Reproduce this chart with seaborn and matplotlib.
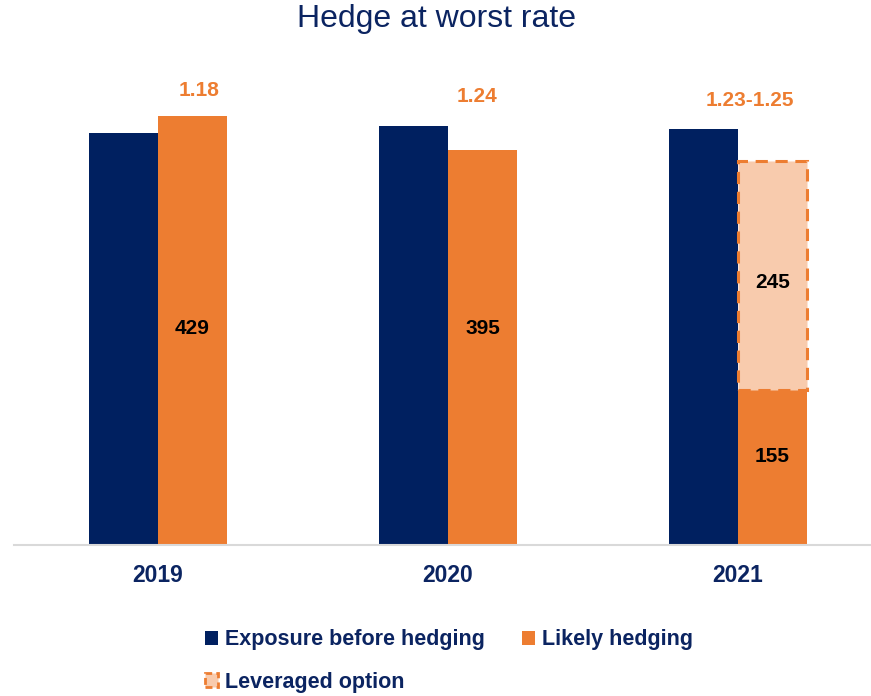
import matplotlib
matplotlib.use("Agg")
import matplotlib.pyplot as plt
import seaborn as sns
import pandas as pd
from matplotlib.patches import Patch

years = ["2019", "2020", "2021"]
exposure = [412, 419, 416]
likely_hedging = [429, 395, 155]
leveraged_height = [0, 0, 229]
leveraged_labels = ["", "", "245"]
rate_labels = ["1.18", "1.24", "1.23-1.25"]

NAVY = "#002060"
TEXT_NAVY = "#0B2461"
ORANGE = "#ED7D31"
LIGHT = "#F8CBAD"

sns.set_theme(style="white")
plt.rcParams['font.family'] = ['Liberation Sans', 'DejaVu Sans']

df = pd.DataFrame({
    "year": years * 2,
    "value": exposure + likely_hedging,
    "series": ["Exposure before hedging"] * 3 + ["Likely hedging"] * 3,
})

fig = plt.figure(figsize=(8.71, 6.96), dpi=100)
W, H = 871, 696
base_px = 545
top_px = 60
ax = fig.add_axes([14 / W, 1 - base_px / H, (W - 14) / W, (base_px - top_px) / H])

bw = 69 / 290
sns.barplot(data=df, x="year", y="value", hue="series",
            palette=[NAVY, ORANGE], width=2 * bw, gap=0, dodge=True,
            saturation=1, ax=ax, legend=False, linewidth=0)

xs = range(len(years))
for i in xs:
    if leveraged_height[i] > 0:
        ax.bar(i + bw / 2, leveraged_height[i], width=bw, bottom=likely_hedging[i],
               color=LIGHT, edgecolor=ORANGE, linestyle=(0, (4, 2.5)), linewidth=2.2)

ax.set_xlim((14 - 158) / 290, (871 - 158) / 290)
ax.set_ylim(0, base_px - top_px)

for s in ["top", "right", "left"]:
    ax.spines[s].set_visible(False)
ax.spines["bottom"].set_color("#D9D9D9")
ax.spines["bottom"].set_linewidth(1.5)
ax.set_yticks([])
ax.set_xlabel("")
ax.set_ylabel("")
ax.tick_params(axis="x", length=0, pad=14)
ax.set_xticks(list(xs))
ax.set_xticklabels(years, fontsize=16.5, fontweight="bold", color=TEXT_NAVY)

# value label vertical placement (layout, in data units)
label_y = [216, 217, 88]
lev_label_y = [0, 0, 262]
for i in xs:
    ax.text(i + bw / 2, label_y[i], str(likely_hedging[i]), ha="center", va="center",
            fontsize=15, fontweight="bold", color="black")
    if leveraged_height[i] > 0:
        ax.text(i + bw / 2, lev_label_y[i], leveraged_labels[i],
                ha="center", va="center", fontsize=15, fontweight="bold", color="black")

rate_x_px = [199, 477, 750]
rate_y_px = [91, 96, 100]
for i in xs:
    fig.text(rate_x_px[i] / W, 1 - rate_y_px[i] / H, rate_labels[i], ha="center", va="center",
             fontsize=15, fontweight="bold", color=ORANGE)

fig.text(436 / W, 1 - 19 / H, "Hedge at worst rate", ha="center", va="center",
         fontsize=23, color=TEXT_NAVY)

handles = [
    Patch(facecolor=NAVY, edgecolor="none", label="Exposure before hedging"),
    Patch(facecolor=LIGHT, edgecolor=ORANGE, linestyle=(0, (2.5, 1.5)), linewidth=2,
          label="Leveraged option"),
    Patch(facecolor=ORANGE, edgecolor="none", label="Likely hedging"),
]
leg = fig.legend(handles=handles, ncol=2, loc="upper left",
                 bbox_to_anchor=(186 / W, 1 - 610 / H), frameon=False,
                 handlelength=0.6, handleheight=0.6, handletextpad=0.3,
                 columnspacing=1.75, labelspacing=1.0,
                 prop={"family": "Liberation Sans", "weight": "bold", "size": 15.5})
for t in leg.get_texts():
    t.set_color(TEXT_NAVY)

fig.savefig("out.png", dpi=100)
